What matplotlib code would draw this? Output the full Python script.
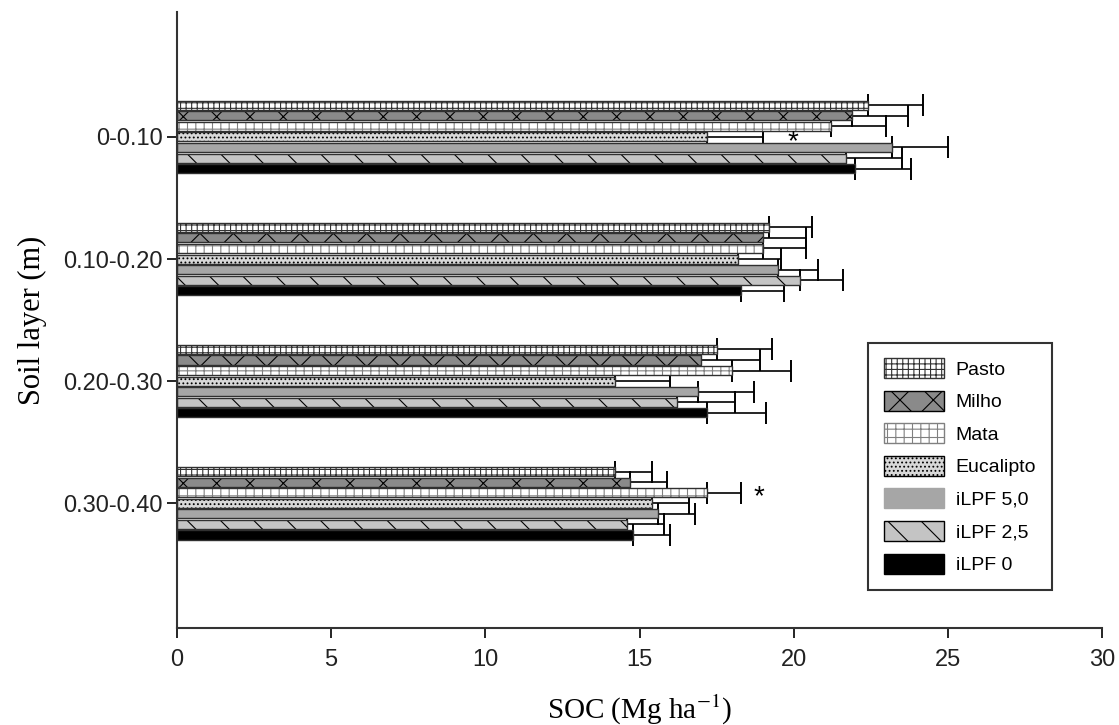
import numpy as np
import matplotlib
matplotlib.use('Agg')
import matplotlib.pyplot as plt
from matplotlib.patches import Patch

# data
layers = ['0-0.10', '0.10-0.20', '0.20-0.30', '0.30-0.40']
systems = ['Pasto', 'Milho', 'Mata', 'Eucalipto', 'iLPF 5,0', 'iLPF 2,5', 'iLPF 0']

# SOC mean per system (rows) and layer (columns)
pasto = [22.4, 19.2, 17.5, 14.2]
milho = [21.9, 19.0, 17.0, 14.7]
mata = [21.2, 19.0, 18.0, 17.2]
eucalipto = [17.2, 18.2, 14.2, 15.4]
ilpf50 = [23.2, 19.5, 16.9, 15.6]
ilpf25 = [21.7, 20.2, 16.2, 14.6]
ilpf0 = [22.0, 18.3, 17.2, 14.8]

# error bar length (one sided)
pasto_err = [1.8, 1.4, 1.8, 1.2]
milho_err = [1.8, 1.4, 1.9, 1.2]
mata_err = [1.8, 1.4, 1.9, 1.1]
eucalipto_err = [1.8, 1.4, 1.8, 1.2]
ilpf50_err = [1.8, 1.3, 1.8, 1.2]
ilpf25_err = [1.8, 1.4, 1.9, 1.2]
ilpf0_err = [1.8, 1.4, 1.9, 1.2]

means = [pasto, milho, mata, eucalipto, ilpf50, ilpf25, ilpf0]
errs = [pasto_err, milho_err, mata_err, eucalipto_err, ilpf50_err, ilpf25_err, ilpf0_err]

# fill, hatch, hatch colour for each system
faces = ['white', '#8a8a8a', 'white', '#d8d8d8', '#a6a6a6', '#c4c4c4', 'black']
hatches = ['+++', 'x', '++', '....', '', '\\', '']
hcolors = ['#333333', 'black', '#808080', 'black', '#a6a6a6', 'black', 'black']

# significance marks (layer index, system index, x)
stars = [(0, 3, 19.8), (3, 2, 18.7)]

plt.rcParams['mathtext.fontset'] = 'stix'
plt.rcParams['hatch.linewidth'] = 0.8

fig = plt.figure(figsize=(11.19, 7.25), dpi=100)
ax = fig.add_axes([0.158, 0.134, 0.827, 0.849])

pitch = 0.0866
height = 0.074
ypos = np.arange(len(layers))

for j, name in enumerate(systems):
    y = ypos + (j - 3) * pitch
    ax.barh(y, means[j], height=height, color=faces[j], hatch=hatches[j],
            edgecolor=hcolors[j], linewidth=0, zorder=2)
    ax.barh(y, means[j], height=height, fill=False, edgecolor='#303030',
            linewidth=1.0, zorder=3)
    ax.errorbar(means[j], y, xerr=[np.zeros(len(layers)), errs[j]], fmt='none',
                ecolor='black', elinewidth=1.2, capsize=8, capthick=1.4, zorder=1)

for li, sj, xs in stars:
    ax.text(xs, ypos[li] + (sj - 3) * pitch + 0.04, '*', fontsize=20, ha='left',
            va='center', family='Liberation Sans')

ax.set_xlim(0, 30)
ax.set_ylim(3 + 1.02, -1.02)
ax.set_xticks([0, 5, 10, 15, 20, 25, 30])
ax.set_yticks(ypos)
ax.set_yticklabels(layers, fontsize=17, family='Liberation Sans', color='#222222')
for lab in ax.get_xticklabels():
    lab.set_fontsize(17)
    lab.set_family('Liberation Sans')
    lab.set_color('#222222')
ax.tick_params(axis='x', length=7, width=1.2, pad=8)
ax.tick_params(axis='y', length=7, width=1.2, pad=3)

for s in ['top', 'right']:
    ax.spines[s].set_visible(False)
for s in ['left', 'bottom']:
    ax.spines[s].set_linewidth(1.5)
    ax.spines[s].set_color('#333333')

ax.set_xlabel('SOC (Mg ha$^{-1}$)', fontsize=21, family='Liberation Serif', labelpad=16)
ax.set_ylabel('Soil layer (m)', fontsize=22, family='Liberation Serif', labelpad=12)

handles = []
for j, name in enumerate(systems):
    handles.append(Patch(facecolor=faces[j], hatch=hatches[j], edgecolor=hcolors[j],
                         linewidth=1.0, label=name))
leg = ax.legend(handles=handles, loc='lower left', bbox_to_anchor=(0.747, 0.062),
                borderaxespad=0, handlelength=3.1, handleheight=1.2, labelspacing=0.62,
                borderpad=0.8, handletextpad=0.6, fancybox=False, framealpha=1,
                edgecolor='#333333', prop={'family': 'Liberation Sans', 'size': 14})
leg.get_frame().set_linewidth(1.5)

fig.savefig('out.png', dpi=100)
